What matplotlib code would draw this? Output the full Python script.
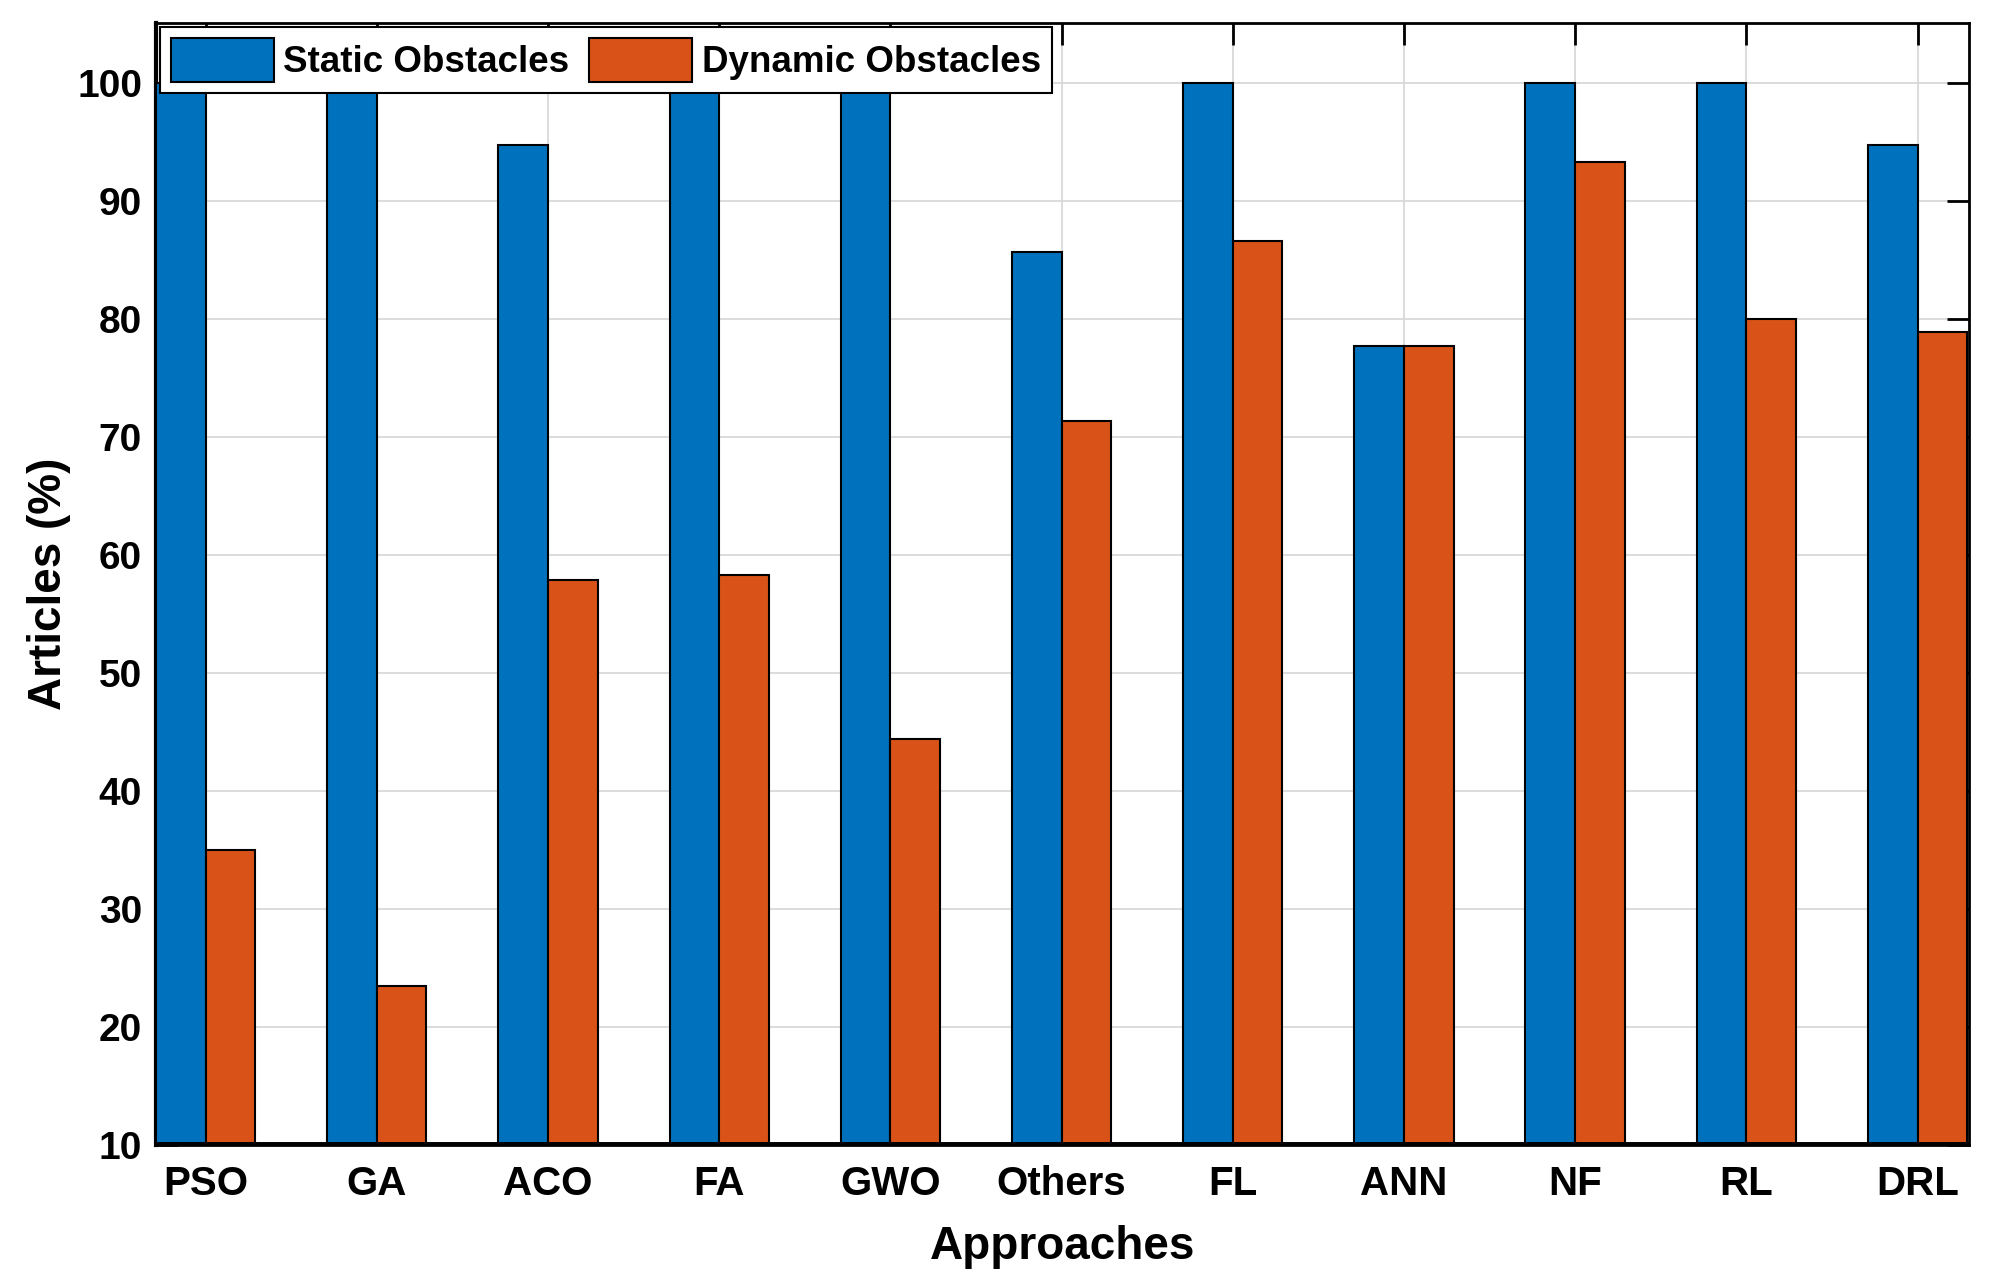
import matplotlib
matplotlib.use("Agg")
import matplotlib.pyplot as plt
import numpy as np

categories = ["PSO", "GA", "ACO", "FA", "GWO", "Others", "FL", "ANN", "NF", "RL", "DRL"]
static_obstacles = [100, 100, 94.74, 100, 100, 85.71, 100, 77.78, 100, 100, 94.74]
dynamic_obstacles = [35.0, 23.53, 57.89, 58.33, 44.44, 71.43, 86.67, 77.78, 93.33, 80.0, 78.95]
series_names = ["Static Obstacles", "Dynamic Obstacles"]
yticks = [10, 20, 30, 40, 50, 60, 70, 80, 90, 100]

plt.rcParams['font.family'] = ['Liberation Sans', 'DejaVu Sans']
plt.rcParams['font.weight'] = 'bold'

fig = plt.figure(figsize=(20.07, 12.87), dpi=100)
ax = fig.add_axes([0.0777, 0.110, 0.9033, 0.872])

x = np.arange(1, len(categories) + 1)
w = 0.29
blue = "#0072BD"
orange = "#D95319"
ax.bar(x - w / 2, np.array(static_obstacles) - 10, w, bottom=10, color=blue,
       edgecolor="black", linewidth=1.5, label=series_names[0], zorder=3)
ax.bar(x + w / 2, np.array(dynamic_obstacles) - 10, w, bottom=10, color=orange,
       edgecolor="black", linewidth=1.5, label=series_names[1], zorder=3)

ax.set_xlim(0.71, 11.3)
ax.set_ylim(10, 105.1)
ax.set_xticks(x)
ax.set_xticklabels(categories, fontsize=29, fontweight='bold')
ax.set_yticks(yticks)
ax.set_yticklabels([str(t) for t in yticks], fontsize=28, fontweight='bold')
ax.tick_params(axis='both', direction='in', length=16, width=2, top=True, right=True)
ax.tick_params(axis='x', pad=14)
ax.tick_params(axis='y', pad=10)

ax.grid(True, color="#d9d9d9", linewidth=1.3, zorder=0)
ax.set_axisbelow(True)
for s in ax.spines.values():
    s.set_linewidth(2)
ax.spines['left'].set_linewidth(3)
ax.axhline(10, color='black', linewidth=5, zorder=4)

ax.set_xlabel("Approaches", fontsize=33, fontweight='bold', labelpad=16)
ax.set_ylabel("Articles (%)", fontsize=33, fontweight='bold', labelpad=4)

leg = ax.legend(loc='upper left', ncol=2, fontsize=26.5, frameon=True, fancybox=False,
                edgecolor='black', framealpha=1, handlelength=2.8, handleheight=1.45,
                borderaxespad=0.1, columnspacing=0.55, handletextpad=0.25, borderpad=0.3)
leg.get_frame().set_linewidth(1.5)
leg.set_zorder(10)
for t in leg.get_texts():
    t.set_fontweight('bold')

fig.savefig("out.png", dpi=100)
